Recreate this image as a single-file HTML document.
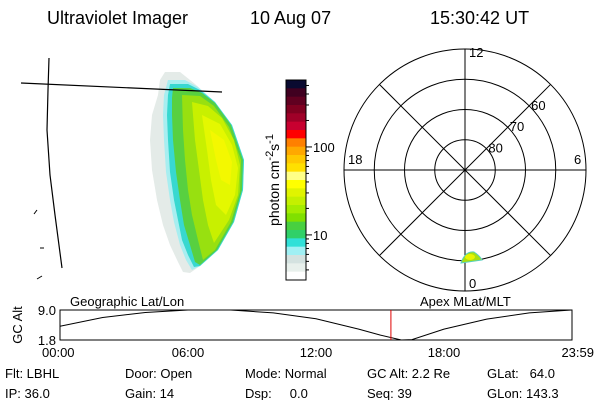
<!DOCTYPE html>
<html><head><meta charset="utf-8"><style>
body{margin:0;background:#fff;width:600px;height:400px;overflow:hidden;font-family:"Liberation Sans",sans-serif}
svg text{font-family:"Liberation Sans",sans-serif;fill:#000}
</style></head><body>
<svg id="s" width="600" height="400" viewBox="0 0 600 400">
<g font-size="18">
<text x="47" y="24">Ultraviolet Imager</text>
<text x="250" y="24">10 Aug 07</text>
<text x="430" y="24">15:30:42 UT</text>
</g>
<g>
<path d="M165,72 L180,72 L195,84 L215,102 L232,125 L244,160 L243,190 L234,222 L218,250 L200,266 L190,273 L183,272 L178,262 L170,245 L163,225 L157,200 L152,170 L150,140 L152,115 L158,95 L160,80Z" fill="#e4ebe8"/>
<path d="M168,80 L185,80 L198,87 L215,102 L232,125 L244,160 L243,190 L234,222 L218,250 L200,266 L192,270 L186,260 L180,245 L174,222 L170,200 L166,172 L164,140 L163,115 L164,95Z" fill="#a8eef0"/>
<path d="M170,84 L188,84 L200,90 L215,102 L232,125 L244,160 L243,190 L234,222 L218,250 L200,266 L194,267 L188,255 L182,240 L178,220 L174,200 L170,172 L168,140 L167,115 L168,95Z" fill="#38d8d0"/>
<path d="M173,88 L190,88 L202,93 L215,103 L231,125 L243,160 L242,190 L233,222 L217,250 L200,265 L195,262 L190,245 L184,225 L180,200 L176,172 L173,140 L172,115 L172,98Z" fill="#58d040"/>
<path d="M182,95 L200,96 L214,106 L229,127 L241,160 L240,192 L231,222 L215,250 L203,260 L198,240 L192,215 L188,190 L185,160 L183,130Z" fill="#98e010"/>
<path d="M192,102 L208,106 L222,118 L234,140 L240,165 L238,195 L229,220 L214,243 L208,225 L203,200 L199,170 L195,140Z" fill="#c8f000"/>
<path d="M202,115 L220,124 L232,145 L238,168 L235,195 L226,215 L216,205 L211,180 L207,150Z" fill="#e4f800"/>
<path d="M210,130 L224,140 L232,162 L230,185 L221,180 L216,160Z" fill="#f4f800"/>
<polyline points="21,83 222,92" stroke="#000" fill="none" stroke-width="1.2"/>
<polyline points="49,58 48,90 47,130 50,175 55,215 62,268" stroke="#000" fill="none" stroke-width="1.2"/>
<line x1="34" y1="214" x2="37" y2="210" stroke="#000"/>
<line x1="40" y1="248" x2="44" y2="248" stroke="#000"/>
<line x1="37" y1="279" x2="42" y2="276" stroke="#000"/>
</g>
<g id="cbar"></g>
<text transform="translate(279,180) rotate(-90)" text-anchor="middle" font-size="14">photon cm<tspan dy="-6" font-size="11">-2</tspan><tspan dy="6">s</tspan><tspan dy="-6" font-size="11">-1</tspan></text>
<g id="polar"></g>
<g id="alt"></g>
<g font-size="13">
<text x="5" y="378">Flt: LBHL</text>
<text x="5" y="398">IP: 36.0</text>
<text x="125" y="378">Door: Open</text>
<text x="125" y="398">Gain: 14</text>
<text x="245" y="378">Mode: Normal</text>
<text x="245" y="398">Dsp:&#160;&#160;&#160;&#160; 0.0</text>
<text x="367" y="378">GC Alt: 2.2 Re</text>
<text x="367" y="398">Seq: 39</text>
<text x="487" y="378">GLat:&#160;&#160; 64.0</text>
<text x="487" y="398">GLon: 143.3</text>
</g>
</svg>
<script>
const NS="http://www.w3.org/2000/svg";
function mk(p,t,a){const e=document.createElementNS(NS,t);for(const k in a)e.setAttribute(k,a[k]);p.appendChild(e);return e;}
// colorbar
const cbColors=["#0a0a30","#400020","#600020","#800020","#a00028","#c80030","#ff0000","#ff8000","#ffa800","#ffc800","#ffe000","#ffff88","#ffff00","#e0f400","#c4f000","#a4ec00","#80e000","#48d040","#30d068","#30e0d8","#a0f0f4","#d4e2e0","#e8f0ec","#ffffff"];
const cbTicks=[10,100];
const cb=document.getElementById('cbar');
const cbTop=80,cbBot=280,cbX=286,cbW=20,h=(cbBot-cbTop)/cbColors.length;
const cbMin=3.07,cbMax=577;
cbColors.forEach((c,i)=>{const r=mk(cb,'rect',{x:cbX,y:cbTop+i*h,width:cbW,height:h+0.5,fill:c});

});
mk(cb,'rect',{x:cbX,y:cbTop,width:cbW,height:cbBot-cbTop,fill:'none',stroke:'#000'});
function cbY(v){return cbBot-(Math.log10(v)-Math.log10(cbMin))/(Math.log10(cbMax)-Math.log10(cbMin))*(cbBot-cbTop);}
for(let d=1;d<=100;d*=10)for(let m=2;m<=9;m++){const v=d*m;if(v<cbMin||v>cbMax)continue;const y=cbY(v);mk(cb,'line',{x1:cbX+cbW,x2:cbX+cbW+3,y1:y,y2:y,stroke:'#000'});}
cbTicks.forEach(v=>{const y=cbY(v);mk(cb,'line',{x1:cbX+cbW,x2:cbX+cbW+6,y1:y,y2:y,stroke:'#000'});
const t=mk(cb,'text',{x:313,y:y+5,'font-size':'13'});t.textContent=v;

});
// polar
const latRings=[80,70,60,50];
const latLabels=[80,70,60];
const mltLabels=["12","6","0","18"];
const pg=document.getElementById('polar');const cx=465,cy=170,R=121;
function rad(lat){return (90-lat)/40*R;}
latRings.forEach(l=>{const c=mk(pg,'circle',{cx:cx,cy:cy,r:rad(l),fill:'none',stroke:'#000'});

});
mk(pg,'line',{x1:cx-R,x2:cx+R,y1:cy,y2:cy,stroke:'#000'});
mk(pg,'line',{x1:cx,x2:cx,y1:cy-R,y2:cy+R,stroke:'#000'});
const d=R/Math.SQRT2;
mk(pg,'line',{x1:cx-d,x2:cx+d,y1:cy-d,y2:cy+d,stroke:'#000'});
mk(pg,'line',{x1:cx-d,x2:cx+d,y1:cy+d,y2:cy-d,stroke:'#000'});
latLabels.forEach(l=>{const r=rad(l)/Math.SQRT2;const t=mk(pg,'text',{x:cx+r+2,y:cy-r+4,'font-size':'13','fill':'#000'});t.textContent=l;

});
[[469,57],[574,164],[469,288],[348,164]].forEach((p,i)=>{const t=mk(pg,'text',{x:p[0],y:p[1],'font-size':'13'});t.textContent=mltLabels[i];

});
mk(pg,'path',{d:`M${cx-4},${cy+93} Q${cx},${cy+81} ${cx+9},${cy+82} Q${cx+15},${cy+86} ${cx+17},${cy+90} L${cx-4},${cy+93}Z`,fill:'#a8e010',stroke:'#58d0c0','stroke-width':'1'});
mk(pg,'ellipse',{cx:cx+5,cy:cy+87,rx:5,ry:3,fill:'#e8f400'});
// altitude chart
const hours=[0,2,4,6,8,10,12,14,15,16,16.5,18,20,22,23.98];
const altRe=[5.1,7.2,8.4,9.0,9.0,8.3,6.9,4.4,3.0,1.8,1.9,4.4,6.8,8.3,9.0];
const timeTicks=["00:00","06:00","12:00","18:00","23:59"];
const ag=document.getElementById('alt');const X0=60,X1=572,Y0=310,Y1=340;
const xs=h=>X0+h/24*(X1-X0),ys=a=>Y1-(a-1.8)/(9-1.8)*(Y1-Y0);
mk(ag,'rect',{x:X0,y:Y0,width:X1-X0,height:Y1-Y0,fill:'none',stroke:'#000'});
const pl=mk(ag,'polyline',{points:hours.map((h,i)=>xs(h)+','+ys(altRe[i])).join(' '),fill:'none',stroke:'#000'});


const ct=15+30/60+42/3600;
const rl=mk(ag,'line',{x1:xs(ct),x2:xs(ct),y1:Y0,y2:Y1,stroke:'#e00000'});


[0,6,12,18,24].forEach((h,i)=>{const t=mk(ag,'text',{x:xs(h),y:357,'font-size':'13','text-anchor':i==0?'start':i==4?'end':'middle'});t.textContent=timeTicks[i];
if(i==0)t.setAttribute('x',X0-18);if(i==4)t.setAttribute('x',X1+22);

});
[[9.0,"9.0"],[1.8,"1.8"]].forEach(v=>{const t=mk(ag,'text',{x:56,y:ys(v[0])+5,'font-size':'13','text-anchor':'end'});t.textContent=v[1];

});
let t=mk(ag,'text',{transform:'translate(22,325) rotate(-90)','font-size':'13','text-anchor':'middle'});t.textContent='GC Alt';


t=mk(ag,'text',{x:70,y:306,'font-size':'13'});t.textContent='Geographic Lat/Lon';


t=mk(ag,'text',{x:420,y:306,'font-size':'13'});t.textContent='Apex MLat/MLT';


</script>
</body></html>
